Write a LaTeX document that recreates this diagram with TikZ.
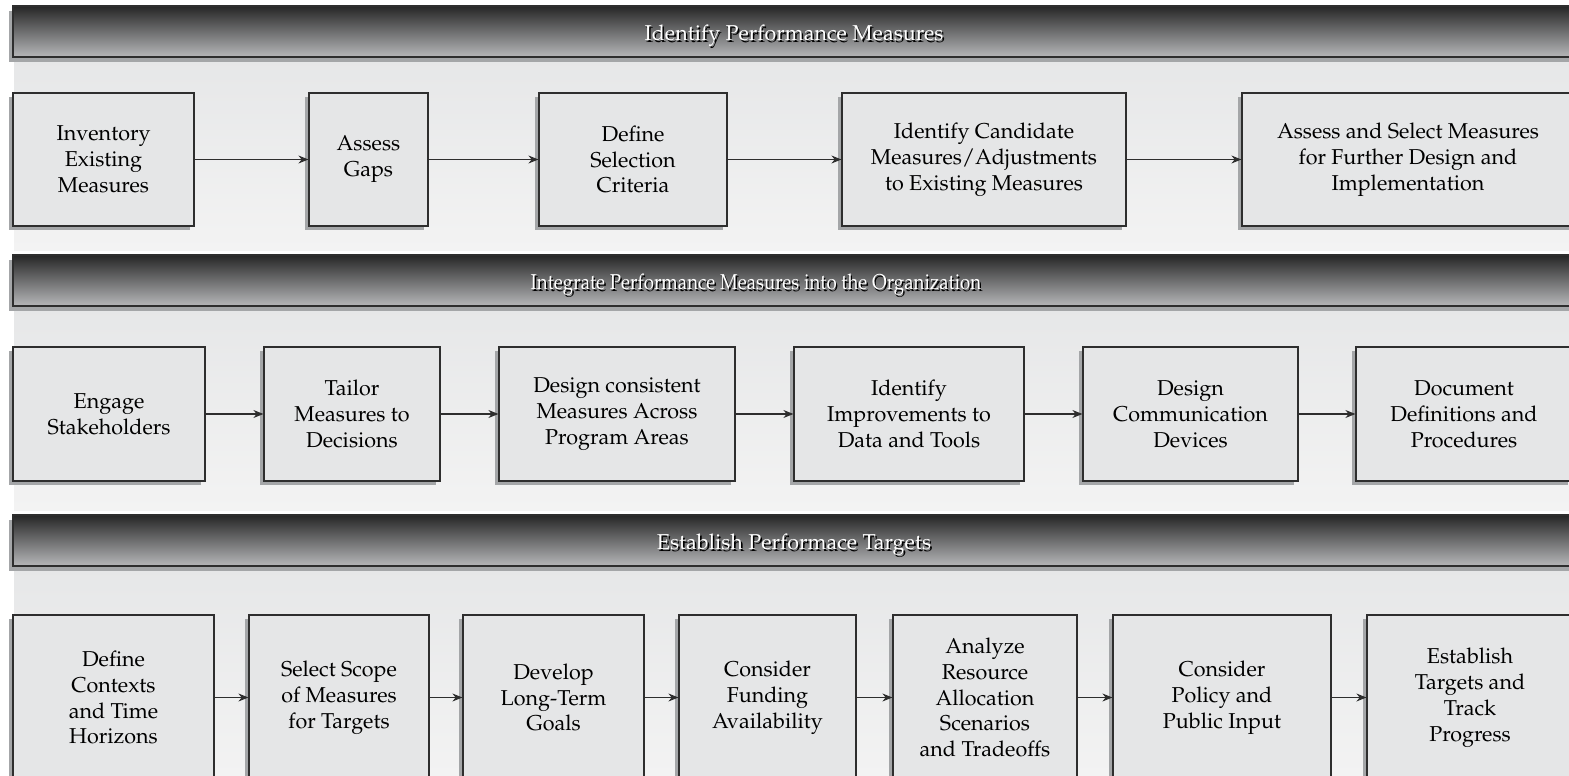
\documentclass[tikz,border=0pt]{standalone}
\usepackage[T1]{fontenc}
\renewcommand\rmdefault{ppl}
\usepackage{tikz}
\usetikzlibrary{arrows.meta,shadows}

\definecolor{boxfill}{HTML}{E5E6E7}
\definecolor{boxline}{HTML}{2E2E2E}
\definecolor{boxshade}{HTML}{A4A6A8}
\definecolor{bartop}{HTML}{262626}
\definecolor{barbot}{HTML}{B6B7B9}
\definecolor{paneltop}{HTML}{E6E7E8}
\definecolor{panelbot}{HTML}{F3F3F3}

\newcommand\cellfont{\fontsize{10.8}{13}\selectfont}
\newcommand\embossed[1]{\raisebox{-4.5bp}[0pt][0pt]{\makebox[0pt][l]{\kern0.8bp\raisebox{-0.8bp}{\color{black}#1}}{\color{white}#1}}}

\tikzset{
	stepbox/.style={draw=boxline, fill=boxfill, line width=0.6bp, inner sep=0pt, align=center, font=\cellfont,
		general shadow={fill=boxshade, shadow xshift=-2bp, shadow yshift=-2bp}},
	rowone/.style={stepbox, minimum height=66.5bp},
	rowtwo/.style={stepbox, minimum height=67bp},
	rowthree/.style={stepbox, minimum height=82.5bp},
	banner/.style={draw=boxline, line width=0.7bp, inner sep=0pt, minimum width=781bp, minimum height=25.5bp,
		top color=bartop, bottom color=barbot, font=\cellfont,
		general shadow={fill=boxshade, shadow xshift=-2bp, shadow yshift=-2.5bp}},
	flow/.style={draw=boxline, line width=0.6bp, -{Stealth[length=5bp, width=4bp]}}
}

\begin{document}
\begin{tikzpicture}[x=0.5bp, y=-0.5bp]
		\useasboundingbox (0, 0) rectangle (1569, 776);
		\fill[white] (0, 0) rectangle (1569, 776);
		% light panels under the banners
		\foreach \ya/\yb in {57/250, 306/510, 566/776}
			\shade[top color=paneltop, bottom color=panelbot] (14, \ya) rectangle (1569, \yb);

		% banners
		\node[banner] (idbar) at (794, 31.5) {\embossed{Identify Performance Measures}};
		\node[banner] (intbar) at (794, 280.5) {\scalebox{0.87}[1]{\embossed{Integrate Performance Measures into the Organization}}\hspace*{38bp}};
		\node[banner] (tgtbar) at (794, 540.5) {\embossed{Establish Performace Targets}};

		% identify
		\node[rowone, minimum width=90.5bp] (inventory) at (103.5, 159.5) {Inventory\\Existing\\Measures};
		\node[rowone, minimum width=59.5bp] (gaps) at (368.5, 159.5) {Assess\\Gaps};
		\node[rowone, minimum width=94bp] (criteria) at (633, 159.5) {Define\\Selection\\Criteria};
		\node[rowone, minimum width=142bp] (candidates) at (984, 159.5) {Identify Candidate\\Measures/Adjustments\\to Existing Measures};
		\node[rowone, minimum width=166bp] (select) at (1408, 159.5) {Assess and Select Measures\\for Further Design and\\Implementation};
		\draw[flow] (inventory) -- (gaps);
		\draw[flow] (gaps) -- (criteria);
		\draw[flow] (criteria) -- (candidates);
		\draw[flow] (candidates) -- (select);

		% integrate
		\node[rowtwo, minimum width=96bp] (engage) at (109, 414) {Engage\\Stakeholders};
		\node[rowtwo, minimum width=88bp] (tailor) at (352, 414) {Tailor\\Measures to\\Decisions};
		\node[rowtwo, minimum width=118bp] (consistent) at (617, 414) {Design consistent\\Measures Across\\Program Areas};
		\node[rowtwo, minimum width=115bp] (improve) at (909, 414) {Identify\\Improvements to\\Data and Tools};
		\node[rowtwo, minimum width=107.5bp] (devices) at (1190.5, 414) {Design\\Communication\\Devices};
		\node[rowtwo, minimum width=108bp] (document) at (1464, 414) {Document\\Definitions and\\Procedures};
		\draw[flow] (engage) -- (tailor);
		\draw[flow] (tailor) -- (consistent);
		\draw[flow] (consistent) -- (improve);
		\draw[flow] (improve) -- (devices);
		\draw[flow] (devices) -- (document);

		% targets
		\node[rowthree, minimum width=100.5bp] (contexts) at (113.5, 697.5) {Define\\Contexts\\and Time\\Horizons};
		\node[rowthree, minimum width=90bp] (scope) at (339, 697.5) {Select Scope\\of Measures\\for Targets};
		\node[rowthree, minimum width=90.5bp] (goals) at (553.5, 697.5) {Develop\\Long-Term\\Goals};
		\node[rowthree, minimum width=88.5bp] (funding) at (767.5, 697.5) {Consider\\Funding\\Availability};
		\node[rowthree, minimum width=92bp] (tradeoffs) at (985, 697.5) {Analyze\\Resource\\Allocation\\Scenarios\\and Tradeoffs};
		\node[rowthree, minimum width=109bp] (policy) at (1222, 697.5) {Consider\\Policy and\\Public Input};
		\node[rowthree, minimum width=103bp] (track) at (1470, 697.5) {Establish\\Targets and\\Track\\Progress};
		\draw[flow] (contexts) -- (scope);
		\draw[flow] (scope) -- (goals);
		\draw[flow] (goals) -- (funding);
		\draw[flow] (funding) -- (tradeoffs);
		\draw[flow] (tradeoffs) -- (policy);
		\draw[flow] (policy) -- (track);
	\end{tikzpicture}
\end{document}
